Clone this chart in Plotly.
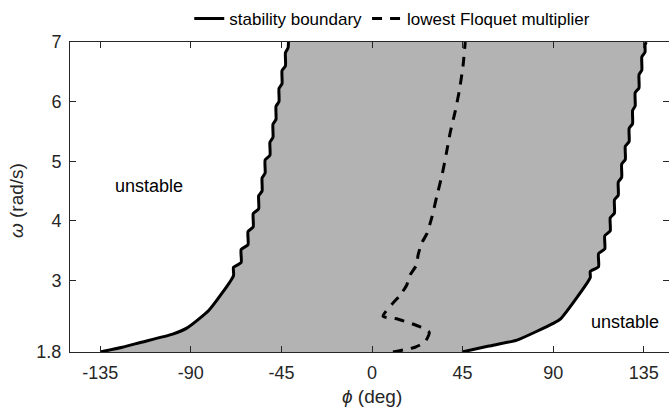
import plotly.graph_objects as go

# ---------------- data ----------------
left_phi = [-135, -124, -115, -99, -92, -81, -68.8, -68.8, -65.0, -65.0, -61.6, -61.6,
            -59.0, -59.0, -56.3, -56.3, -54.6, -54.6, -53.1, -53.1, -50.7, -50.7,
            -49.2, -49.2, -47.7, -47.7, -46.2, -46.2, -44.7, -44.7, -43.0, -43.0, -41.7, -41.5]
left_omega = [1.80, 1.88, 1.96, 2.10, 2.20, 2.50, 3.08, 3.22, 3.30, 3.52, 3.60, 3.82,
              3.90, 4.12, 4.20, 4.42, 4.50, 4.72, 4.80, 5.02, 5.10, 5.32,
              5.40, 5.62, 5.70, 5.92, 6.00, 6.22, 6.30, 6.52, 6.60, 6.82, 6.90, 7.00]

right_phi = [44.7, 58, 72, 90, 93.5, 108.4, 108.4, 112.5, 112.5, 115.6, 115.6, 118.3,
             118.3, 120.4, 120.4, 122.3, 122.3, 124.0, 124.0, 125.8, 125.8, 127.7,
             127.7, 129.4, 129.4, 130.7, 130.7, 132.6, 132.6, 134.0, 134.0, 135.6, 135.6, 136.2]
right_omega = [1.80, 1.90, 2.00, 2.28, 2.35, 3.05, 3.15, 3.23, 3.45, 3.53, 3.75, 3.83,
               4.05, 4.13, 4.35, 4.43, 4.65, 4.73, 4.95, 5.03, 5.25, 5.33,
               5.55, 5.63, 5.85, 5.93, 6.15, 6.23, 6.45, 6.53, 6.75, 6.83, 6.95, 7.00]

floq_phi = [10.4, 21.4, 26.3, 28.4, 24.0, 13.0, 5.5, 10.4, 13.9, 17.2, 18.9, 22.1,
            22.9, 24.7, 27.2, 29.8, 32.3, 34.8, 36.9, 38.9, 41.4, 43.5, 45.2, 46.3]
floq_omega = [1.80, 1.88, 1.97, 2.13, 2.22, 2.35, 2.40, 2.62, 2.75, 2.92, 3.09, 3.26,
              3.43, 3.63, 3.78, 4.07, 4.43, 4.77, 5.13, 5.49, 5.85, 6.21, 6.60, 7.00]

x_ticks = [-135, -90, -45, 0, 45, 90, 135]
x_tick_text = ["-135", "-90", "-45", "0", "45", "90", "135"]
y_ticks = [1.8, 3, 4, 5, 6, 7]
y_tick_text = ["1.8", "3", "4", "5", "6", "7"]

# ---------------- figure ----------------
FONT = "Liberation Sans, Arial, Helvetica, sans-serif"
TXT = "#262626"
SMOOTH = 0.5

fig = go.Figure()

# stable region fill
fig.add_trace(go.Scatter(
    x=left_phi + right_phi[::-1], y=left_omega + right_omega[::-1],
    mode="lines", fill="toself", fillcolor="rgb(179,179,179)",
    line=dict(width=0, color="rgba(0,0,0,0)", shape="spline", smoothing=SMOOTH),
    showlegend=False, hoverinfo="skip"))

fig.add_trace(go.Scatter(x=left_phi, y=left_omega, mode="lines",
                         line=dict(color="black", width=3, shape="spline", smoothing=SMOOTH),
                         name="stability boundary", legendgroup="sb"))
fig.add_trace(go.Scatter(x=right_phi, y=right_omega, mode="lines",
                         line=dict(color="black", width=3, shape="spline", smoothing=SMOOTH),
                         name="stability boundary", legendgroup="sb", showlegend=False))
fig.add_trace(go.Scatter(x=floq_phi, y=floq_omega, mode="lines",
                         line=dict(color="black", width=3, dash="10px,8px",
                                   shape="spline", smoothing=0.6),
                         name="lowest Floquet multiplier"))

# right-side ticks only (frame cut off)
fig.add_trace(go.Scatter(x=[None], y=[None], yaxis="y2", showlegend=False, hoverinfo="skip"))

fig.update_layout(
    width=669, height=412,
    margin=dict(l=70, r=0, t=42, b=60),
    paper_bgcolor="white", plot_bgcolor="white",
    font=dict(family=FONT, color=TXT, size=18),
    showlegend=True,
    legend=dict(orientation="h", x=0.538, y=1.074, xanchor="center", yanchor="middle",
                font=dict(size=17, color="black"), bgcolor="rgba(0,0,0,0)",
                itemwidth=30, tracegroupgap=0),
    xaxis=dict(range=[-150, 147.5], tickvals=x_ticks, ticktext=x_tick_text,
               ticks="inside", ticklen=6,
               tickcolor=TXT, showline=True, linecolor=TXT, linewidth=1,
               mirror="ticks", showgrid=False, zeroline=False,
               tickfont=dict(size=18, color=TXT), ticklabelstandoff=4),
    yaxis=dict(range=[1.8, 7], tickvals=y_ticks, ticktext=y_tick_text, ticks="inside",
               ticklen=6, tickcolor=TXT, showline=True, linecolor=TXT, linewidth=1,
               mirror=False, showgrid=False, zeroline=False,
               tickfont=dict(size=18, color=TXT), ticklabelstandoff=4),
    yaxis2=dict(range=[1.8, 7], tickvals=y_ticks, ticks="inside", ticklen=6,
                tickcolor=TXT, overlaying="y", side="right", showline=False,
                showticklabels=False, showgrid=False, zeroline=False),
    annotations=[
        dict(text="unstable", x=-111, y=4.58, xref="x", yref="y", showarrow=False,
             font=dict(size=18, color="black"), xanchor="center", yanchor="middle"),
        dict(text="unstable", x=125.7, y=2.30, xref="x", yref="y", showarrow=False,
             font=dict(size=18, color="black"), xanchor="center", yanchor="middle"),
        dict(text="<i>ϕ</i> (deg)", x=0.504, y=-0.142, xref="paper", yref="paper",
             showarrow=False, font=dict(size=19, color=TXT),
             xanchor="center", yanchor="middle"),
        dict(text="<i>ω</i> (rad/s)", x=-0.0902, y=0.49, xref="paper", yref="paper",
             showarrow=False, textangle=-90, font=dict(size=19, color=TXT),
             xanchor="center", yanchor="middle"),
    ],
)

fig.write_html("out.html")
